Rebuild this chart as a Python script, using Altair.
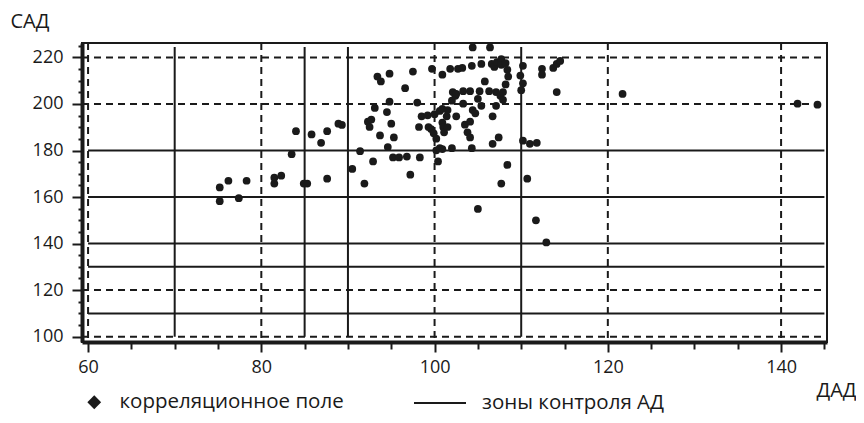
import altair as alt
import pandas as pd

# ---- data ----
dad = [75.2, 75.2, 76.2, 77.4, 78.3, 81.5, 81.5, 82.3, 83.5, 84.0, 84.9, 85.3, 85.8, 86.9, 87.6, 87.6,
       88.9, 89.3, 90.5, 91.4, 91.9, 92.3, 92.7, 92.5, 92.9, 93.1, 93.4, 93.8, 93.7, 94.5, 94.6, 94.8,
       94.8, 95.0, 95.3, 95.2, 95.9, 96.6, 96.8, 97.2, 97.5, 98.0, 98.3, 98.2, 98.5, 99.3, 99.2, 99.6,
       99.9, 99.7, 100.0, 100.2, 100.2, 100.4, 100.6, 100.9, 100.6, 100.9, 100.9, 101.0, 101.1, 100.9,
       101.4, 101.5, 101.5, 101.8, 102.0, 102.0, 102.4, 102.5, 102.7, 102.1, 102.5, 103.2, 103.3, 103.3,
       103.5, 103.8, 104.1, 104.1, 104.3, 104.3, 104.4, 104.4, 104.1, 104.7, 105.0, 105.0, 105.2, 105.4,
       105.4, 105.8, 106.4, 106.3, 106.6, 106.7, 106.7, 106.9, 107.1, 107.1, 107.2, 107.4, 107.6, 107.7,
       107.7, 107.9, 107.9, 108.2, 108.2, 108.4, 108.5, 107.7, 108.4, 109.9, 110.0, 110.2, 110.2, 110.2,
       110.7, 111.0, 111.8, 111.7, 112.4, 112.4, 112.9, 113.7, 114.1, 114.5, 114.1, 121.7, 141.9, 144.2]
sad = [164.1, 158.2, 167.0, 159.5, 167.0, 165.8, 168.3, 169.2, 178.4, 188.3, 165.8, 165.8, 186.9, 183.3, 188.3, 167.9,
       191.5, 191.0, 172.1, 179.7, 165.8, 192.4, 193.3, 190.1, 175.3, 198.3, 211.8, 209.7, 186.5, 196.5, 181.5, 201.0,
       213.0, 191.5, 185.6, 177.0, 177.0, 206.8, 177.4, 169.6, 213.9, 200.6, 177.0, 190.1, 194.7, 190.1, 195.1, 189.2,
       187.4, 215.1, 195.6, 185.1, 180.1, 175.3, 197.0, 197.9, 181.0, 212.6, 192.0, 190.1, 187.8, 180.6,
       194.7, 197.4, 190.1, 215.1, 201.4, 181.0, 203.5, 194.7, 215.1, 205.1, 204.3, 215.5, 205.5, 200.1,
       191.1, 187.8, 192.4, 185.6, 216.4, 181.0, 224.3, 197.4, 205.5, 196.0, 202.2, 154.9, 205.5, 199.2,
       217.2, 209.7, 224.3, 205.5, 217.2, 194.7, 182.9, 215.9, 205.1, 199.2, 218.0, 185.6, 203.5, 219.3,
       216.8, 205.1, 201.8, 217.6, 208.4, 214.7, 211.8, 165.8, 173.8, 212.2, 205.9, 216.4, 208.9, 184.2,
       167.9, 182.9, 183.3, 150.0, 215.1, 212.6, 140.5, 215.5, 217.2, 218.5, 205.1, 204.3, 200.1, 199.7]

zone_h = [180, 160, 140, 130, 110]      # solid horizontal control-zone lines (САД)
zone_v = [70, 85, 90, 110]              # solid vertical control-zone lines (ДАД)
dash_h = [220, 200, 120, 100]           # dashed horizontal grid
dash_v = [60, 80, 100, 120, 140]        # dashed vertical grid
zone_x_span = [60, 145]
zone_y_span = [100, 224.5]

x_domain = [59.3, 145.3]
y_domain = [97.7, 226.2]
x_major = list(range(60, 141, 20))
y_major = list(range(100, 221, 20))
x_minor = [v for v in range(60, 146, 5) if v % 20]
y_minor = [v for v in range(100, 226, 5) if v % 20]

legend_points = "корреляционное поле"
legend_zones = "зоны контроля АД"
x_title = "ДАД"
y_title = "САД"

FONT = "Open Sans"
INK = "#1a1a1a"
FS = 18      # tick labels
FT = 20      # axis titles
FL = 20.5    # legend labels

xs = alt.Scale(domain=x_domain, nice=False, zero=False)
ys = alt.Scale(domain=y_domain, nice=False, zero=False)

pts = pd.DataFrame({"dad": dad, "sad": sad, "kind": legend_points})
zh = pd.DataFrame({"y": zone_h, "x0": zone_x_span[0], "x1": zone_x_span[1], "kind": legend_zones})
zv = pd.DataFrame({"x": zone_v, "y0": zone_y_span[0], "y1": zone_y_span[1], "kind": legend_zones})
dh = pd.DataFrame({"y": dash_h})
dv = pd.DataFrame({"x": dash_v})

x_axis = alt.Axis(
    orient="bottom", values=x_major, grid=False, tickSize=10,
    tickWidth=2, tickColor=INK, domainWidth=4, domainColor=INK,
    labelFont=FONT, labelFontSize=FS, labelColor=INK, labelPadding=6, labelOverlap=False,
    labelFlush=False,
    title=x_title, titleX=734, titleY=48, titleAlign="left", titleBaseline="middle",
    titleFont=FONT, titleFontSize=FT, titleFontWeight="normal", titleColor=INK,
)
y_axis = alt.Axis(
    orient="left", values=y_major, grid=False, tickSize=10,
    tickWidth=2, tickColor=INK, domainWidth=4, domainColor=INK,
    labelFont=FONT, labelFontSize=FS, labelColor=INK, labelPadding=9, labelOverlap=False,
    labelFlush=False,
    title=y_title, titleAngle=0, titleX=-72, titleY=-22, titleAlign="left", titleBaseline="middle",
    titleFont=FONT, titleFontSize=FT, titleFontWeight="normal", titleColor=INK,
)
x_minor_axis = alt.Axis(orient="bottom", values=x_minor, grid=False, tickSize=7, tickWidth=2,
                        tickColor=INK, labels=False, domain=False, title=None)
y_minor_axis = alt.Axis(orient="left", values=y_minor, grid=False, tickSize=4, tickWidth=2,
                        tickColor=INK, labels=False, domain=False, title=None)

dash_h_layer = alt.Chart(dh).mark_rule(strokeDash=[7, 5], strokeWidth=2, color=INK).encode(
    y=alt.Y("y:Q", scale=ys, axis=y_minor_axis), x=alt.value(0), x2=alt.value("width"))
dash_v_layer = alt.Chart(dv).mark_rule(strokeDash=[7, 5], strokeWidth=2, color=INK).encode(
    x=alt.X("x:Q", scale=xs, axis=x_minor_axis), y=alt.value(0), y2=alt.value("height"))

stroke_scale = alt.Scale(domain=[legend_zones], range=[INK])
zone_h_layer = alt.Chart(zh).mark_rule(strokeWidth=2).encode(
    y=alt.Y("y:Q", scale=ys, axis=None),
    x=alt.X("x0:Q", scale=xs, axis=None), x2="x1:Q",
    stroke=alt.Stroke("kind:N", scale=stroke_scale, legend=alt.Legend(
        title=None, orient="none", legendX=331, legendY=333, symbolType="stroke",
        symbolSize=2704, symbolStrokeWidth=2, labelOffset=15, padding=0,
        labelFont=FONT, labelFontSize=FL, labelColor=INK, labelLimit=400)))
zone_v_layer = alt.Chart(zv).mark_rule(strokeWidth=2).encode(
    x=alt.X("x:Q", scale=xs, axis=None),
    y=alt.Y("y0:Q", scale=ys, axis=None), y2="y1:Q",
    stroke=alt.Stroke("kind:N", scale=stroke_scale, legend=None))

points = alt.Chart(pts).mark_point(filled=True, size=60, opacity=1).encode(
    x=alt.X("dad:Q", scale=xs, axis=x_axis),
    y=alt.Y("sad:Q", scale=ys, axis=y_axis),
    fill=alt.Fill("kind:N", scale=alt.Scale(domain=[legend_points], range=[INK]), legend=alt.Legend(
        title=None, orient="none", legendX=2, legendY=349, symbolType="diamond",
        symbolSize=190, symbolStrokeWidth=0, labelOffset=15, padding=0,
        labelFont=FONT, labelFontSize=FL, labelColor=INK, labelLimit=400)))

chart = alt.layer(dash_h_layer, dash_v_layer, zone_h_layer, zone_v_layer, points).resolve_axis(
    x="independent", y="independent"
).properties(
    width=745, height=299,
    autosize=alt.AutoSizeParams(type="none"),
    padding={"left": 74, "top": 35, "right": 29, "bottom": 73},
    background="white",
).configure_view(stroke=INK, strokeWidth=2)

chart.save("out.html", embed_options={"renderer": "svg", "actions": False})
